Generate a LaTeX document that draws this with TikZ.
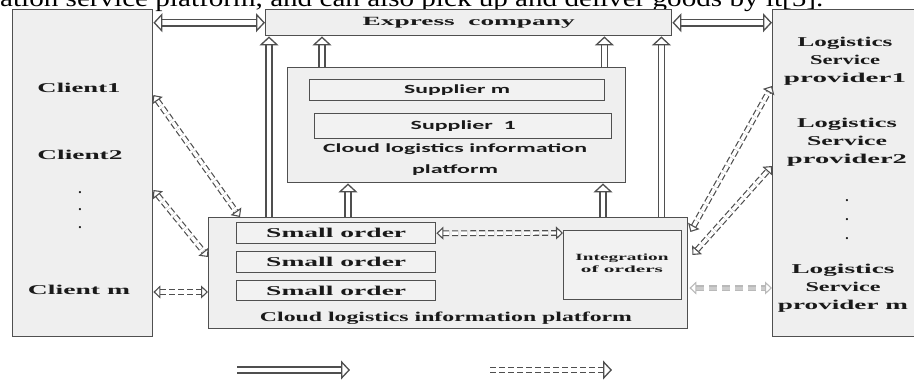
\documentclass[tikz,border=0pt]{standalone}
\usepackage{graphicx}
\usepackage{fontspec}
\setmainfont{Liberation Serif}
\newfontfamily\sansf{Carlito}
\usetikzlibrary{arrows.meta,calc}
\newcommand\hs[2]{\resizebox{#1pt}{\height}{#2}}
\definecolor{boxc}{HTML}{505050}
\definecolor{boxf}{HTML}{EFEFEF}
\definecolor{txtc}{HTML}{1A1A1A}
\definecolor{arrc}{HTML}{4F4F4F}
\begin{document}
\begin{tikzpicture}[x=1pt,y=-1pt,
  box/.style={draw=boxc, line width=1.4pt, fill=boxf, anchor=north west, inner sep=0pt},
  ibox/.style={draw=boxc, line width=1.4pt, fill=white!95!black, anchor=north west, inner sep=0pt},
  lbl/.style={text=txtc, font=\bfseries\fontsize{13.5}{18}\selectfont, inner sep=0pt, align=center},
  slbl/.style={text=txtc, font=\sansf\bfseries\fontsize{12.5}{21}\selectfont, inner sep=0pt, align=center},
  hol/.style={draw=arrc, line width=1.4pt, double=white, double distance=4.8pt},
  htip/.tip={Triangle[length=9pt, width=19pt, fill=white, line width=1.3pt, line join=miter]},
  dtip/.tip={Triangle[length=7pt, width=13pt, fill=white, line width=1.1pt, line join=miter]},
  harrow/.style={hol, -htip},
  hdbl/.style={hol, htip-htip},
  dhol/.style={draw=arrc, line width=1.2pt, double=white, double distance=3.4pt, dash pattern=on 6pt off 3pt},
  darrow/.style={dhol, dtip-dtip},
  garrow/.style={draw=gray!55, line width=1.3pt, double=gray!40, double distance=3pt, dash pattern=on 8pt off 5pt, dtip-dtip},
  larrow/.style={dhol, -htip}
]
\useasboundingbox (0,0) rectangle (914,381);
% cropped caption text at the top
\node[anchor=base west, inner sep=0pt, font=\fontsize{24}{24}\selectfont] (top) at (0,6)
  {\hs{823}{ation service platform, and can also pick up and deliver goods by it[5].}};

% big side boxes
\node[box, minimum width=140pt, minimum height=327pt] (cl) at (12,9) {};
\node[box, minimum width=170pt, minimum height=327pt] (lsp) at (772,9) {};
% express company
\node[box, minimum width=406pt, minimum height=26pt, lbl, font=\bfseries\fontsize{12.5}{14}\selectfont] (exp) at (265,9) {\hs{212}{Express\ \ company}};
% upper cloud platform
\node[box, minimum width=338pt, minimum height=115pt] (cup) at (287,67) {};
\node[ibox, minimum width=295pt, minimum height=21pt, slbl] (supm) at (309,79) {\hs{106}{Supplier m}};
\node[ibox, minimum width=297pt, minimum height=25pt, slbl] (sup1) at (314,113) {\hs{105}{Supplier\ \ 1}};
\node[slbl] (cupt) at (455,160) {\hs{264}{Cloud logistics information}\\\hs{86}{platform}};
% lower cloud platform
\node[box, minimum width=479pt, minimum height=111pt] (clp) at (208,217) {};
\node[ibox, minimum width=199pt, minimum height=21pt, lbl] (so1) at (236,222) {\hs{140}{Small order}};
\node[ibox, minimum width=199pt, minimum height=21pt, lbl] (so2) at (236,251) {\hs{140}{Small order}};
\node[ibox, minimum width=199pt, minimum height=20pt, lbl] (so3) at (236,280) {\hs{140}{Small order}};
\node[ibox, minimum width=118pt, minimum height=69pt] (int) at (563,230) {};
\node[lbl, font=\bfseries\fontsize{9.5}{12}\selectfont] (intt) at (622,263) {\hs{93}{Integration}\\\hs{82}{of orders}};
\node[lbl] (clpt) at (446,318) {\hs{372}{Cloud logistics information platform}};

% client labels
\node[lbl] (c1) at (79,88) {\hs{83}{Client1}};
\node[lbl] (c2) at (80,155) {\hs{85}{Client2}};
\node[lbl, anchor=base] (cd1) at (80,193) {.};
\node[lbl, anchor=base] (cd2) at (80,210) {.};
\node[lbl, anchor=base] (cd3) at (80,228) {.};
\node[lbl] (cm) at (79,290) {\hs{102}{Client m}};
% provider labels
\node[lbl] (p1) at (845,61) {\hs{95}{Logistics}\\\hs{70}{Service}\\\hs{122}{provider1}};
\node[lbl] (p2) at (847,142) {\hs{100}{Logistics}\\\hs{80}{Service}\\\hs{120}{provider2}};
\node[lbl, anchor=base] (pd1) at (847,201) {.};
\node[lbl, anchor=base] (pd2) at (847,220) {.};
\node[lbl, anchor=base] (pd3) at (847,239) {.};
\node[lbl] (pm) at (843,288) {\hs{103}{Logistics}\\\hs{75}{Service}\\\hs{130}{provider m}};

% solid hollow arrows
\draw[hdbl] (cl.east |- exp.west) -- (exp.west);
\draw[hdbl] (exp.east) -- (lsp.west |- exp.east);
\draw[harrow] ($(clp.north west)+(61,0)$) coordinate (u1) -- (u1 |- exp.south);
\draw[harrow] ($(clp.north east)+(-27,0)$) coordinate (u2) -- (u2 |- exp.south);
\draw[harrow] ($(cup.north west)+(35,0)$) coordinate (u3) -- (u3 |- exp.south);
\draw[harrow] ($(cup.north east)+(-22,0)$) coordinate (u4) -- (u4 |- exp.south);
\draw[harrow] ($(clp.north west)+(140,0)$) coordinate (u5) -- (u5 |- cup.south);
\draw[harrow] ($(clp.north west)+(395,0)$) coordinate (u6) -- (u6 |- cup.south);

% dashed hollow arrows
\draw[darrow] ($(cl.north east)+(0,86)$) -- ($(clp.north west)+(32,0)$);
\draw[darrow] ($(cl.north east)+(0,181)$) -- ($(clp.north west)+(0,40)$);
\draw[darrow] ($(cl.north east)+(0,283)$) -- ($(clp.north west)+(0,75)$);
\draw[darrow] (so1.east) -- ($(int.north west)+(0,3)$);
\draw[darrow] ($(clp.north east)+(2,15)$) -- ($(lsp.north west)+(0,77)$);
\draw[darrow] ($(clp.north east)+(4,38)$) -- ($(lsp.north west)+(0,157)$);
\draw[garrow] ($(clp.north east)+(1,71)$) -- ($(lsp.north west)+(0,279)$);

% legend
\coordinate (l1a) at (237,370);
\coordinate (l1b) at (350,370);
\coordinate (l2a) at (490,370);
\coordinate (l2b) at (612,370);
\draw[harrow] (l1a) -- (l1b);
\draw[larrow] (l2a) -- (l2b);
\end{tikzpicture}
\end{document}
